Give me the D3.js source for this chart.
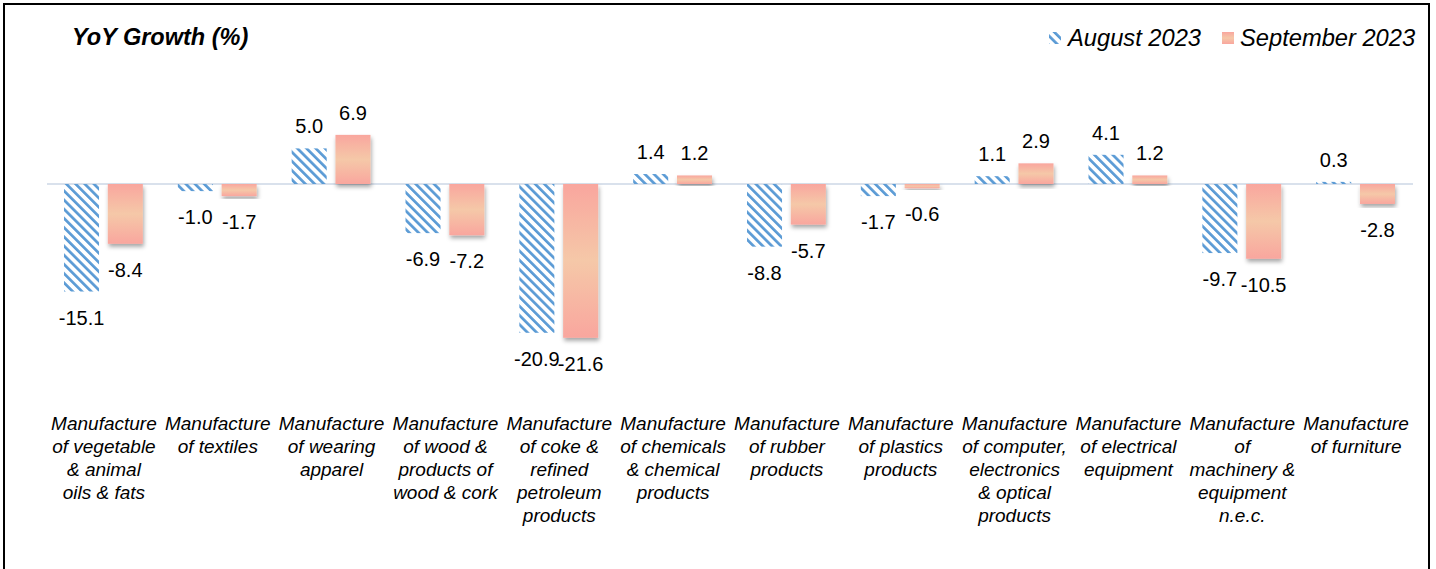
<!DOCTYPE html>
<html>
<head>
<meta charset="utf-8">
<script src="https://cdn.jsdelivr.net/npm/d3@7"></script>
<style>
  body { margin: 0; background: #fff; }
  text { font-family: "Liberation Sans", Arial, sans-serif; fill: #000; }
</style>
</head>
<body>
<svg id="chart"></svg>
<script>
const width = 1436
const height = 569

// data
const categories = [
    ["Manufacture", "of vegetable", "& animal", "oils & fats"],
    ["Manufacture", "of textiles"],
    ["Manufacture", "of wearing", "apparel"],
    ["Manufacture", "of wood &", "products of", "wood & cork"],
    ["Manufacture", "of coke &", "refined", "petroleum", "products"],
    ["Manufacture", "of chemicals", "& chemical", "products"],
    ["Manufacture", "of rubber", "products"],
    ["Manufacture", "of plastics", "products"],
    ["Manufacture", "of computer,", "electronics", "& optical", "products"],
    ["Manufacture", "of electrical", "equipment"],
    ["Manufacture", "of", "machinery &", "equipment", "n.e.c."],
    ["Manufacture", "of furniture"]
]
const seriesNames = ["August 2023", "September 2023"]
const aug2023 = [-15.1, -1.0, 5.0, -6.9, -20.9, 1.4, -8.8, -1.7, 1.1, 4.1, -9.7, 0.3]
const sep2023 = [-8.4, -1.7, 6.9, -7.2, -21.6, 1.2, -5.7, -0.6, 2.9, 1.2, -10.5, -2.8]

var svg = d3.select("#chart")
    .attr("width", width)
    .attr("height", height)

var defs = svg.append("defs")

// hatch for august bars
defs.append("pattern")
    .attr("id", "hatch")
    .attr("patternUnits", "userSpaceOnUse")
    .attr("width", 6.5)
    .attr("height", 6.5)
    .attr("patternTransform", "rotate(-45)")
    .append("rect")
    .attr("width", 2.7)
    .attr("height", 6.5)
    .attr("fill", "#5B9BD5")

// gradient for september bars
var grad = defs.append("linearGradient")
    .attr("id", "sepGrad")
    .attr("x1", 0).attr("y1", 0).attr("x2", 0).attr("y2", 1)
grad.append("stop").attr("offset", "0%").attr("stop-color", "#F9A69E")
grad.append("stop").attr("offset", "50%").attr("stop-color", "#F5C8A8")
grad.append("stop").attr("offset", "100%").attr("stop-color", "#F9A69E")

defs.append("filter")
    .attr("id", "shadow")
    .attr("x", "-20%").attr("y", "-20%").attr("width", "140%").attr("height", "140%")
    .append("feDropShadow")
    .attr("dx", 1).attr("dy", 3)
    .attr("stdDeviation", 2)
    .attr("flood-color", "#000")
    .attr("flood-opacity", 0.35)

// frame
svg.append("rect")
    .attr("x", 4).attr("y", 4)
    .attr("width", 1425).attr("height", 620)
    .attr("fill", "none")
    .attr("stroke", "#000")
    .attr("stroke-width", 2)

var x = d3.scaleBand()
    .domain(d3.range(categories.length))
    .range([47, 1413])

var x1 = d3.scaleBand()
    .domain(seriesNames)
    .range([17, x.bandwidth() - 18])
    .paddingInner(0.2)

var y = d3.scaleLinear()
    .domain([-25, 10])
    .range([184 + 25 * 7.12, 184 - 10 * 7.12])

// zero line
svg.append("line")
    .attr("x1", 47).attr("x2", 1413)
    .attr("y1", y(0)).attr("y2", y(0))
    .attr("stroke", "#D9E1EC")
    .attr("stroke-width", 2)

var series = [
    { name: seriesNames[0], values: aug2023, fill: "url(#hatch)", filter: null },
    { name: seriesNames[1], values: sep2023, fill: "url(#sepGrad)", filter: "url(#shadow)" }
]

series.forEach(function (s) {
    var g = svg.append("g")
    g.selectAll("rect")
        .data(s.values)
        .enter()
        .append("rect")
        .attr("x", function (d, i) { return x(i) + x1(s.name) })
        .attr("y", function (d) { return Math.min(y(d), y(0)) })
        .attr("width", x1.bandwidth())
        .attr("height", function (d) { return Math.abs(y(d) - y(0)) })
        .attr("fill", s.fill)
        .attr("filter", s.filter)

    g.selectAll("text")
        .data(s.values)
        .enter()
        .append("text")
        .attr("x", function (d, i) { return x(i) + x1(s.name) + x1.bandwidth() / 2 })
        .attr("y", function (d) { return d >= 0 ? y(d) - 15 : y(d) + 33 })
        .attr("text-anchor", "middle")
        .style("font-size", "20px")
        .text(function (d) { return d.toFixed(1) })
})

// category axis
var xAxis = d3.axisBottom(x).tickSize(0).tickFormat("")
var axisG = svg.append("g")
    .attr("transform", "translate(0,400)")
    .call(xAxis)
axisG.select(".domain").remove()
axisG.selectAll(".tick text").remove()
axisG.selectAll(".tick")
    .append("text")
    .attr("text-anchor", "middle")
    .style("font-size", "19px")
    .style("font-style", "italic")
    .attr("fill", "#000")
    .selectAll("tspan")
    .data(function (d) { return categories[d] })
    .enter()
    .append("tspan")
    .attr("x", 0)
    .attr("y", function (d, i) { return 30 + i * 23 })
    .text(function (d) { return d })

// title
svg.append("text")
    .attr("x", 72)
    .attr("y", 45)
    .style("font-size", "23.5px")
    .style("font-weight", "bold")
    .style("font-style", "italic")
    .text("YoY Growth (%)")

// legend
var legend = svg.append("g")
legend.append("rect")
    .attr("x", 1049).attr("y", 32)
    .attr("width", 12).attr("height", 12)
    .attr("fill", "url(#hatch)")
legend.append("text")
    .attr("x", 1068).attr("y", 46)
    .style("font-size", "23.7px")
    .style("font-style", "italic")
    .text(seriesNames[0])
legend.append("rect")
    .attr("x", 1222).attr("y", 32)
    .attr("width", 12).attr("height", 12)
    .attr("fill", "url(#sepGrad)")
legend.append("text")
    .attr("x", 1240).attr("y", 46)
    .style("font-size", "23.7px")
    .style("font-style", "italic")
    .text(seriesNames[1])
</script>
</body>
</html>
